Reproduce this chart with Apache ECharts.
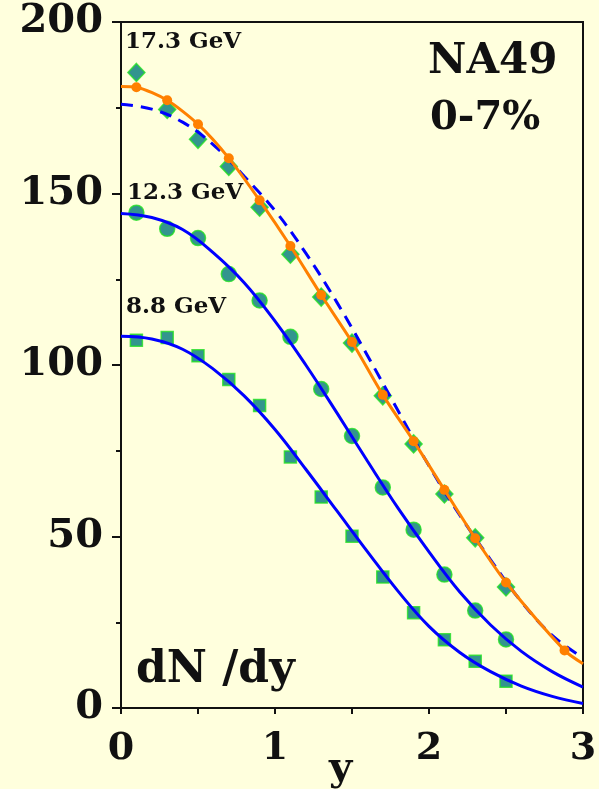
<!DOCTYPE html>
<html>
<head>
<meta charset="utf-8">
<script src="https://cdn.jsdelivr.net/npm/echarts@6/dist/echarts.min.js"></script>
<style>
  html, body { margin: 0; padding: 0; background: #FFFFDD; }
  #chart { width: 599px; height: 789px; }
</style>
</head>
<body>
<div id="chart"></div>
<script>
// Rapidity positions of the measured points
const yPoints = [0.1, 0.3, 0.5, 0.7, 0.9, 1.1, 1.3, 1.5, 1.7, 1.9, 2.1, 2.3, 2.5];

// 8.8 GeV: measured dN/dy and fit curve
const data88 = [107.2, 108.0, 102.7, 95.8, 88.2, 73.2, 61.5, 50.1, 38.2, 27.8, 19.9, 13.6, 7.8];
const fitX = [0, 0.2, 0.4, 0.6, 0.8, 1.0, 1.2, 1.4, 1.6, 1.8, 2.0, 2.2, 2.4, 2.6, 2.8, 3.0];
const fit88 = [108.4, 107.6, 104.6, 98.8, 91.0, 81.2, 69.6, 57.6, 45.6, 34.0, 23.8, 16.2, 10.6, 6.4, 3.4, 1.3];

// 12.3 GeV
const data123 = [144.4, 139.7, 137.0, 126.5, 118.8, 108.2, 93.0, 79.3, 64.3, 52.0, 38.9, 28.4, 20.0];
const fit123 = [144.2, 143.0, 139.5, 132.7, 124.0, 112.8, 100.0, 86.2, 72.0, 58.2, 45.5, 33.8, 24.2, 16.5, 10.6, 6.1];

// 17.3 GeV: measured points, reflected/model points and fit
const data173 = [185.3, 174.5, 165.8, 157.9, 146.0, 132.3, 119.8, 106.4, 91.0, 77.0, 62.4, 49.6, 35.3];
const modelX173 = [0.1, 0.3, 0.5, 0.7, 0.9, 1.1, 1.3, 1.5, 1.7, 1.9, 2.1, 2.3, 2.5, 2.88];
const model173 = [181.0, 177.2, 170.2, 160.3, 148.0, 134.7, 120.4, 106.7, 91.3, 77.8, 63.6, 49.5, 36.6, 16.8];
const modelEnds173 = [[0, 181.2], [3, 12.9]];
const fit173 = [176.0, 174.6, 170.8, 164.2, 155.0, 145.0, 132.6, 118.4, 102.8, 86.6, 70.6, 56.2, 43.2, 31.0, 21.2, 14.6];

// Axis ticks
const xTickLabels = ['0', '1', '2', '3'];
const yTickLabels = ['0', '50', '100', '150', '200'];

const FONT = '"DejaVu Serif", "Liberation Serif", serif';
const TEAL = '#007A7A';
const GREEN = '#22E022';
const BLUE = '#0000FF';
const ORANGE = '#FF8000';

const pairs = (xs, ys) => xs.map((x, i) => [x, ys[i]]);

const markerStyle = { color: TEAL, borderColor: GREEN, borderWidth: 1.5 };

const modelData = [
  { value: modelEnds173[0], symbol: 'none' },
  ...pairs(modelX173, model173),
  { value: modelEnds173[1], symbol: 'none' }
];

const fitLine = (name, values, dashed) => ({
  name, type: 'line', smooth: 0.4, symbol: 'none',
  data: pairs(fitX, values),
  lineStyle: { color: BLUE, width: 3, type: dashed ? [12, 8] : 'solid' }, z: 3
});

const chart = echarts.init(document.getElementById('chart'), null, { renderer: 'canvas' });

chart.setOption({
  backgroundColor: '#FFFFDD',
  animation: false,
  grid: {
    left: 121, top: 22, width: 462, height: 686,
    show: true, borderColor: '#111', borderWidth: 2, backgroundColor: 'transparent',
    containLabel: false, outerBoundsMode: 'none'
  },
  xAxis: {
    type: 'value', min: 0, max: 3, interval: 1,
    axisLine: { onZero: false, lineStyle: { color: '#111', width: 2 } },
    axisTick: { show: true, length: 6, lineStyle: { color: '#111', width: 2 } },
    minorTick: { show: true, splitNumber: 2, length: 6, lineStyle: { color: '#111', width: 2 } },
    splitLine: { show: false },
    axisLabel: {
      margin: 22, color: '#111', fontFamily: FONT, fontWeight: 'bold', fontSize: 38,
      formatter: v => xTickLabels[Math.round(v)]
    }
  },
  yAxis: {
    type: 'value', min: 0, max: 200, interval: 50,
    axisLine: { onZero: false, lineStyle: { color: '#111', width: 2 } },
    axisTick: { show: true, length: 9, lineStyle: { color: '#111', width: 2 } },
    minorTick: { show: true, splitNumber: 2, length: 5, lineStyle: { color: '#111', width: 2 } },
    splitLine: { show: false },
    axisLabel: {
      margin: 18, color: '#111', fontFamily: FONT, fontWeight: 'bold', fontSize: 40,
      formatter: v => yTickLabels[Math.round(v / 50)]
    }
  },
  series: [
    { name: '8.8 GeV data', type: 'scatter', symbol: 'rect', symbolSize: 12,
      data: pairs(yPoints, data88), itemStyle: markerStyle, z: 2 },
    { name: '12.3 GeV data', type: 'scatter', symbol: 'circle', symbolSize: 15,
      data: pairs(yPoints, data123), itemStyle: markerStyle, z: 2 },
    { name: '17.3 GeV data', type: 'scatter', symbol: 'diamond', symbolSize: [17, 18],
      data: pairs(yPoints, data173), itemStyle: markerStyle, z: 2 },
    fitLine('8.8 GeV fit', fit88, false),
    fitLine('12.3 GeV fit', fit123, false),
    fitLine('17.3 GeV fit', fit173, true),
    { name: '17.3 GeV model', type: 'line', smooth: 0.25, symbol: 'circle', symbolSize: 10,
      showSymbol: true, data: modelData,
      itemStyle: { color: ORANGE }, lineStyle: { color: ORANGE, width: 3 }, z: 4 }
  ],
  graphic: [
    { type: 'text', left: 125, top: 31, z: 10,
      style: { text: '17.3 GeV', font: 'bold 23px ' + FONT, fill: '#111' } },
    { type: 'text', left: 127, top: 182, z: 10,
      style: { text: '12.3 GeV', font: 'bold 23px ' + FONT, fill: '#111' } },
    { type: 'text', left: 126, top: 296, z: 10,
      style: { text: '8.8 GeV', font: 'bold 23px ' + FONT, fill: '#111' } },
    { type: 'text', left: 428, top: 41, z: 10,
      style: { text: 'NA49', font: 'bold 42px ' + FONT, fill: '#111' } },
    { type: 'text', left: 430, top: 99, z: 10,
      style: { text: '0-7%', font: 'bold 40px ' + FONT, fill: '#111' } },
    { type: 'text', left: 136, top: 649, z: 10,
      style: { text: 'dN /dy', font: 'bold 44px ' + FONT, fill: '#111' } },
    { type: 'text', left: 329, top: 750, z: 10,
      style: { text: 'y', font: 'bold 40px ' + FONT, fill: '#111' } }
  ]
});
</script>
</body>
</html>
